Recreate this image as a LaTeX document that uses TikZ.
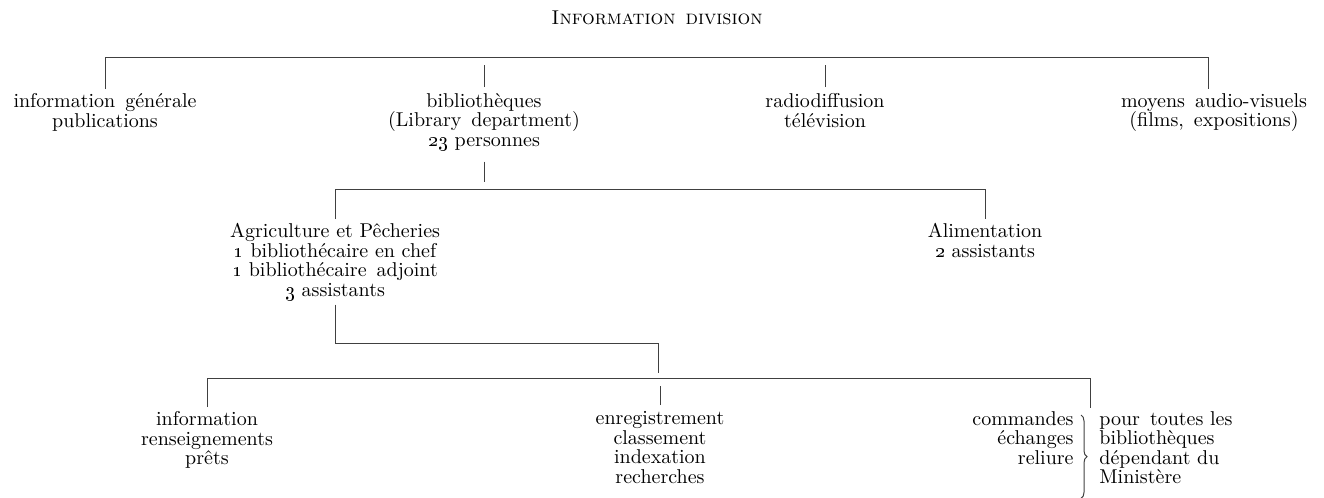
\documentclass[tikz,border=0pt]{standalone}
\usetikzlibrary{decorations.pathreplacing}

\begin{document}
\begin{tikzpicture}[x=0.5pt, y=-0.5pt,
%overlay,
every node/.style={inner sep=2pt, align=center, anchor=north,
    font=\fontsize{10}{9.75}\selectfont
    },
rule/.style={line width=0.5pt, black!75}
]
\useasboundingbox (0,0) rectangle (1324,498);

\node[anchor=base] (title) at (657,25) {\textsc{Information\enspace division}};

\node (info) at (105,89) {information\enspace générale\\publications};
\node (bib) at (484,89) {bibliothèques\\(Library\enspace department)\\\oldstylenums{23} personnes};
\node (radio) at (825,89) {radiodiffusion\\télévision};
\node (moy) at (1214,89) {moyens\enspace audio-visuels\\(films,\enspace expositions)};

\node (agri) at (335,219) {Agriculture et Pêcheries\\\oldstylenums{1} bibliothécaire en chef\\\oldstylenums{1} bibliothécaire\enspace adjoint\\\oldstylenums{3} assistants};
\node (alim) at (985,219) {Alimentation\\\oldstylenums{2} assistants};

\node (info2) at (207,407) {information\\renseignements\\prêts};
\node (enreg) at (660,407) {enregistrement\\classement\\indexation\\recherches};
\node[anchor=north east, align=right] (cmd) at (1078,407) {commandes\\échanges\\reliure};
\node[anchor=north west, align=left] (pour) at (1095,407) {pour\enspace toutes les\\bibliothèques\\dépendant du\\Ministère};

\coordinate (b1l) at (105,57);
\coordinate (b1r) at (1208,57);
\coordinate (b2l) at (335,189);
\coordinate (b2r) at (985,189);
\coordinate (kink) at (658,343);
\coordinate (b3l) at (207,378);
\coordinate (b3r) at (1090,378);
\coordinate (rj) at (1090,408);

\draw[rule] (info.north) -- (info.north |- b1l) -- (b1r) -- (moy.north -| b1r);
\draw[rule] (agri.north) -- (agri.north |- b2l) -- (b2r) -- (alim.north -| b2r);
\draw[rule] (info2.north) -- (info2.north |- b3l) -- (b3r) -- (rj);
\draw[rule] (agri.south) |- (kink) -- ([yshift=2.5pt]kink |- b3l);

\foreach \n/\b in {bib/b1l, radio/b1l, enreg/b3l}
    \draw[rule] ([yshift=1pt]\n.north) -- ([yshift=-4pt]\n.north |- \b);
\draw[rule] ([yshift=-3.5pt]bib.south) -- ([yshift=3.5pt]bib.south |- b2l);

\draw[rule, decorate, decoration={brace, amplitude=3pt}]
    ([xshift=-7pt, yshift=-4pt]pour.north west) -- ([xshift=-7pt, yshift=-5pt]pour.south west);

\end{tikzpicture}
\end{document}
